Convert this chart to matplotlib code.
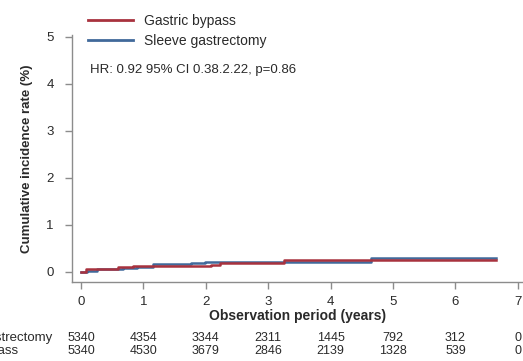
"""
Cumulative incidence plot: gastric bypass vs sleeve gastrectomy, with risk table.
"""
import matplotlib
matplotlib.use("Agg")
import matplotlib.pyplot as plt
import matplotlib.transforms as mtransforms

plt.rcParams['font.family'] = ['Liberation Sans', 'DejaVu Sans']

# step curves (years, cumulative incidence %)
bypass_t = [0, 0.08, 0.6, 0.83, 2.08, 2.22, 3.25, 4.65, 6.65]
bypass_y = [0, 0.06, 0.10, 0.13, 0.15, 0.18, 0.24, 0.25, 0.25]
sleeve_t = [0, 0.10, 0.25, 0.67, 0.90, 1.15, 1.77, 1.98, 4.64, 6.65]
sleeve_y = [0, 0.02, 0.06, 0.08, 0.11, 0.16, 0.18, 0.21, 0.29, 0.29]

# numbers at risk
risk_years = [0, 1, 2, 3, 4, 5, 6, 7]
risk_sleeve = [5340, 4354, 3344, 2311, 1445, 792, 312, 0]
risk_bypass = [5340, 4530, 3679, 2846, 2139, 1328, 539, 0]

hr_text = "HR: 0.92 95% CI 0.38.2.22, p=0.86"

red = '#a8323e'
blue = '#41699a'
axis_gray = '#8c8c8c'
text_col = '#2a2a2a'

W, H = 523, 361
fig = plt.figure(figsize=(W / 100, H / 100), dpi=100)
ax = fig.add_axes([72 / W, 1 - 282 / H, 451 / W, (282 - 35) / H])

ax.step(sleeve_t, sleeve_y, where='post', color=blue, linewidth=1.8, label='Sleeve gastrectomy')
ax.step(bypass_t, bypass_y, where='post', color=red, linewidth=1.8, label='Gastric bypass')

ax.set_xlim(-0.144, 7.083)
ax.set_ylim(-0.219, 5.036)
ax.set_xticks(range(0, 8))
ax.set_yticks(range(0, 6))

for side in ['top', 'right']:
    ax.spines[side].set_visible(False)
for side in ['left', 'bottom']:
    ax.spines[side].set_color(axis_gray)
    ax.spines[side].set_linewidth(1.0)
ax.tick_params(axis='both', direction='out', length=5, width=1.0, color=axis_gray,
               labelsize=9.5, labelcolor=text_col)
ax.tick_params(axis='x', pad=5)
ax.tick_params(axis='y', pad=8)

ax.set_xlabel('Observation period (years)', fontsize=10, fontweight='bold', color=text_col, labelpad=1)
ax.set_ylabel('Cumulative incidence rate (%)', fontsize=9.5, fontweight='bold', color=text_col, labelpad=10)

# legend (bypass first)
handles, labels = ax.get_legend_handles_labels()
leg = fig.legend(handles[::-1], labels[::-1], loc='upper left',
                 bbox_to_anchor=(82 / W, 1 - 8 / H), frameon=False, fontsize=10,
                 handlelength=3.3, handletextpad=0.8, labelspacing=0.45, borderaxespad=0)
for t in leg.get_texts():
    t.set_color(text_col)
for line in leg.get_lines():
    line.set_linewidth(2.0)

fig.text(90 / W, 1 - 70 / H, hr_text, fontsize=9.5, color=text_col, va='center', ha='left')

# risk table
trans = mtransforms.blended_transform_factory(ax.transData, fig.transFigure)
for yr, s, b in zip(risk_years, risk_sleeve, risk_bypass):
    ax.text(yr, 1 - 338 / H, str(s), transform=trans, ha='center', va='center',
            fontsize=9, color=text_col, clip_on=False)
    ax.text(yr, 1 - 351 / H, str(b), transform=trans, ha='center', va='center',
            fontsize=9, color=text_col, clip_on=False)
fig.text(52 / W, 1 - 338 / H, 'Sleeve gastrectomy', ha='right', va='center', fontsize=9.5, color=text_col)
fig.text(18 / W, 1 - 351 / H, 'Gastric bypass', ha='right', va='center', fontsize=9.5, color=text_col)

fig.savefig('out.png', dpi=100)
